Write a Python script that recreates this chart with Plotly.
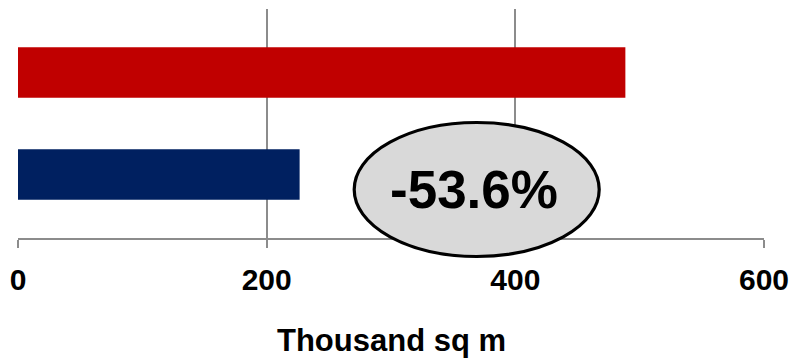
import plotly.graph_objects as go

# Floor space, thousand square metres
periods = ["Before", "After"]
floor_space = [226.5, 488.5]
bar_colors = ["#002060", "#C00000"]
change_label = "-53.6%"
x_ticks = [0, 200, 400, 600]
x_title = "Thousand sq m"

FONT = "Liberation Sans, Arial, sans-serif"
GRID = "#8C8C8C"

fig = go.Figure(
    go.Bar(
        y=periods,
        x=floor_space,
        orientation="h",
        marker=dict(color=bar_colors, line=dict(width=0)),
        width=0.497,
        hoverinfo="skip",
    )
)

fig.update_layout(
    width=792,
    height=360,
    margin=dict(l=18, r=28, t=9, b=122, autoexpand=False),
    paper_bgcolor="white",
    plot_bgcolor="white",
    showlegend=False,
    font=dict(family=FONT, color="black"),
)

fig.update_xaxes(
    automargin=False,
    range=[0, 600],
    tickvals=x_ticks,
    ticktext=[str(v) for v in x_ticks],
    showgrid=True,
    gridcolor=GRID,
    gridwidth=1.6,
    zeroline=False,
    showline=True,
    linecolor=GRID,
    linewidth=1.6,
    ticks="outside",
    ticklen=8,
    tickcolor=GRID,
    tickwidth=1.6,
    tickfont=dict(family=FONT, size=30, weight="bold", color="black"),
    ticklabelstandoff=6,
)

fig.update_yaxes(
    automargin=False,
    type="category",
    range=[-0.6225, 1.6225],
    showticklabels=False,
    showgrid=False,
    zeroline=False,
    showline=False,
    ticks="",
)

# Axis title
fig.add_annotation(
    x=0.5, y=-0.0, xref="paper", yref="paper",
    xanchor="center", yanchor="middle",
    xshift=(391 - (18 + 746 / 2)), yshift=-(340 - 238),
    text=x_title, showarrow=False,
    font=dict(family=FONT, size=31, weight="bold", color="black"),
)

# Oval callout with the percentage change
fig.add_shape(
    type="circle",
    xref="paper", yref="paper",
    x0=(354.2 - 18) / 746, x1=(599.2 - 18) / 746,
    y0=(238 - 256.5) / 229, y1=(238 - 122.5) / 229,
    fillcolor="#D9D9D9",
    line=dict(color="black", width=3.2),
    layer="above",
)
fig.add_annotation(
    x=(474 - 18) / 746, y=(238 - 189) / 229, xref="paper", yref="paper",
    xanchor="center", yanchor="middle",
    text=change_label, showarrow=False,
    font=dict(family=FONT, size=53, weight="bold", color="black"),
)

fig.write_html("out.html")
